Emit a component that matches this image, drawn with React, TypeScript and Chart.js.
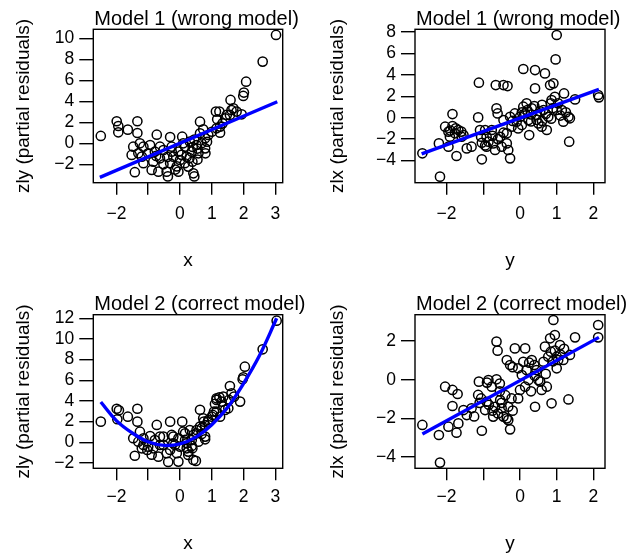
import React, { useEffect, useRef } from 'react';
import { Chart, registerables } from 'chart.js';

Chart.register(...registerables);

const FONT = '"Liberation Sans", Arial, Helvetica, sans-serif';

// ---------- Panel 1: Model 1, zly vs x ----------
const p1X = [-2.49, -1.99, -1.94, -1.94, -1.64, -1.34, -1.34, -0.73, -1.42, -0.38, 0.45, -1.47, -1.26, -1.52, -1.31, -1.15, -0.94, -1.2, -1.0, -0.79, -0.84, -0.63, -0.89, -0.68, -0.42, -0.31, -0.52, -0.26, -0.21, -0.31, -0.05, 0.0, -0.05, 0.07, 0.16, 0.21, 0.26, 0.37, 0.39, 0.42, 0.31, 0.52, 0.63, 0.58, 0.68, 0.79, 0.79, 0.89, 0.73, 0.63, 1.0, 1.15, 1.26, -1.15, -0.63, -0.52, -0.26, -0.1, 0.05, 0.1, 0.15, 0.4, 0.45, 0.55, 0.55, 0.8, 0.85, 1.13, 1.24, 1.17, 1.26, 1.34, 1.42, 1.47, 1.57, 1.59, 1.62, 1.68, 1.78, 1.94, 1.99, 2.01, 2.08, 2.6, 3.02, -0.75, -0.4, 0.3, -0.15];
const p1Y = [0.7, 2.1, 1.65, 1.05, 1.3, 2.1, 0.98, 0.82, -2.75, -3.15, -3.15, -0.32, 0.0, -1.11, -0.95, -0.32, -0.16, -1.27, -0.95, -0.8, -1.75, -1.43, -2.54, -2.7, -2.7, 0.6, -0.64, -0.32, -1.27, -1.9, -0.8, -1.59, -2.7, 0.63, -0.32, -1.27, -2.22, -0.8, -1.75, -2.86, 0.16, -0.16, 0.95, -0.95, 0.0, -0.48, 0.48, 0.79, 1.33, 2.06, 1.1, 1.43, 1.01, -1.9, -0.32, -2.0, -0.8, -2.2, -1.1, 0.0, -1.9, -0.35, 0.35, -0.5, -1.55, -0.95, 0.15, 3.02, 3.02, 2.29, 1.59, 1.9, 2.38, 2.7, 2.7, 4.13, 3.17, 3.33, 3.02, 2.76, 4.51, 4.83, 5.87, 7.78, 10.32, -1.2, -1.3, -1.4, -2.5];
const p1FitX = [-2.52, 3.06];
const p1FitY = [-3.24, 3.96];

// ---------- Panel 2: Model 1, zlx vs y ----------
const p2X = [-2.66, -2.18, -2.21, -2.04, -1.84, -1.84, -1.95, -1.91, -1.77, -1.68, -1.59, -1.95, -1.73, -1.54, -1.45, -1.32, -1.12, -1.14, -1.09, -1.06, -1.04, -1.04, -0.95, -0.91, -0.91, -0.86, -0.77, -0.73, -0.68, -0.64, -0.61, -0.66, -0.45, -0.34, -0.54, -0.5, -0.36, -0.36, -0.32, -0.27, -0.45, -0.27, -0.23, -0.14, -0.09, -0.05, 0.0, 0.05, 0.09, 0.09, 0.14, 0.18, 0.23, 0.25, 0.32, 0.39, 0.41, 0.41, 0.45, 0.5, 0.59, 0.64, 0.68, 0.73, 0.77, 0.82, 0.84, 0.86, 0.91, 0.95, 0.97, 1.0, 1.0, 1.04, 1.14, 1.18, 1.2, 1.32, 1.36, 1.34, 1.5, 2.13, 2.15, 0.05, 0.2, 0.3, 0.55, 0.6, 0.7, 0.3, 0.45, 0.6, -0.2, -0.45, -0.6, -0.75, -0.95, 1.1, 1.25, 0.9, 0.85, -1.6, -1.75, -1.9];
const p2Y = [-3.33, -5.51, -2.4, -0.84, 0.34, -0.78, -1.31, -1.78, -1.46, -1.15, -1.78, -2.71, -3.58, -1.62, -2.87, -2.71, 3.27, 0.03, -1.15, -1.78, -2.34, -3.89, -1.15, -1.78, -2.71, -2.24, -1.15, -2.4, -3.02, 0.87, 0.4, 3.05, 3.05, 2.96, -1.78, -2.71, -1.46, -2.4, -3.02, -3.8, -0.22, 0.09, -0.84, 0.4, -0.37, -1.0, 0.09, -0.69, 4.55, 1.03, 0.4, 1.34, -0.22, -1.62, 0.87, 1.09, 4.45, 2.74, 0.25, -0.53, -0.84, 0.72, 4.14, -1.15, 0.09, 3.05, 1.34, 1.65, 3.21, 1.96, 5.45, 0.72, 7.73, 1.34, 0.72, -0.37, 2.27, 0.09, -0.06, -2.24, 1.71, 2.12, 1.9, 0.5, 0.7, 0.3, 0.6, 1.2, 0.35, -0.35, -0.2, -0.3, -0.3, -1.4, -2.0, -1.7, -2.6, 0.2, 0.5, 0.9, -0.1, -1.3, -1.0, -1.2];
const p2FitX = [-2.68, 2.15];
const p2FitY = [-3.39, 2.65];

// ---------- Panel 3: Model 2, zly vs x ----------
const p3X = [-2.49, -1.99, -1.92, -1.97, -1.64, -1.34, -1.34, -0.73, -1.47, -1.42, -1.26, -1.31, -1.15, -1.2, -0.94, -1.0, -0.79, -0.84, -0.89, -0.63, -0.68, -0.42, -0.37, -0.31, -0.52, -0.26, -0.21, -0.31, -0.05, 0.0, -0.05, 0.07, 0.16, 0.21, 0.26, 0.37, 0.39, 0.42, 0.5, 0.31, 0.52, 0.63, 0.58, 0.68, 0.79, 0.79, 0.89, 0.73, 1.0, 1.15, 1.26, 1.15, 1.36, 1.54, -1.15, -1.03, -0.63, -0.52, -0.21, -0.16, -0.1, 0.1, 0.16, 0.21, 0.26, 0.37, 0.42, 0.52, 0.63, 0.68, 0.79, 0.75, 0.89, 1.03, 1.07, 1.1, 1.15, 1.24, 1.31, 1.36, 1.42, 1.52, 1.57, 1.62, 1.7, 1.89, 1.97, 1.99, 2.04, 2.6, 3.04];
const p3Y = [2.0, 3.25, 3.1, 2.23, 2.48, 3.25, 2.0, 1.68, 0.39, -1.3, 1.03, 0.06, 0.39, -0.58, 0.6, -0.43, 0.22, -0.58, -1.2, -0.26, -1.39, -1.06, -1.9, 2.0, 0.55, 0.71, -0.1, -0.74, 0.39, -0.42, -1.87, 2.0, 0.87, -0.1, -0.9, 0.22, -0.58, -1.71, -1.8, 1.19, 0.87, 3.15, 0.06, 1.35, 0.55, 1.67, 2.0, 2.32, 2.48, 2.97, 2.48, 4.26, 4.42, 4.1, -0.26, -0.74, 0.55, -0.26, 0.55, -0.26, -1.06, 1.03, 0.23, -0.58, -1.23, -0.35, 0.71, 1.19, 1.52, 0.81, 0.29, 2.0, 2.16, 2.65, 2.97, 3.71, 4.1, 4.35, 3.94, 3.45, 3.13, 3.29, 5.45, 4.74, 4.42, 3.94, 6.1, 6.29, 7.32, 9.0, 11.77];
const p3FitX = [-2.49, -2.0, -1.5, -1.0, -0.5, 0.0, 0.5, 1.0, 1.5, 2.0, 2.5, 3.04];
const p3FitY = [3.9, 2.1, 0.9, 0.05, -0.3, -0.15, 0.5, 1.7, 3.4, 5.7, 8.4, 12.0];

// ---------- Panel 4: Model 2, zlx vs y ----------
const p4X = [-2.66, -2.18, -2.21, -2.04, -1.84, -1.7, -1.84, -1.95, -1.73, -1.68, -1.54, -1.45, -1.32, -1.12, -1.04, -1.14, -1.06, -0.95, -0.91, -0.86, -0.77, -0.73, -0.68, -0.64, -0.64, -0.61, -0.54, -0.5, -0.45, -0.36, -0.32, -0.27, -0.32, -0.23, -0.36, -0.27, -0.14, -0.05, 0.14, 0.09, 0.05, 0.0, -0.05, 0.14, 0.18, 0.25, 0.23, 0.32, 0.39, 0.41, 0.45, 0.5, 0.59, 0.64, 0.68, 0.73, 0.77, 0.82, 0.84, 0.86, 0.91, 0.95, 1.0, 1.0, 1.04, 1.09, 1.18, 1.32, 1.36, 1.5, 2.13, 2.13, -0.2, -0.9, -0.55, -0.85, -0.75, -0.6, -0.5, -0.4, -0.55, 0.3, 0.55, 0.7, 0.4, 0.9, 1.1, 1.2, 0.95, -1.1, -0.2, -1.25];
const p4Y = [-2.34, -4.29, -2.86, -0.36, -0.53, -0.74, -1.36, -2.43, -2.74, -2.26, -1.57, -1.83, -1.48, -0.1, -2.64, -0.79, -0.97, -1.57, -1.14, -0.02, -0.36, -1.91, -1.4, 0.02, 1.97, 1.5, -1.05, -1.48, -1.91, -2.0, -2.09, -2.57, -1.4, -0.97, 1.02, 0.76, 1.62, 0.59, 1.62, 0.93, 0.24, -0.53, -0.97, -0.36, 0.5, 0.88, -0.02, 1.02, 0.76, -1.4, 0.5, -0.02, -0.53, 0.93, 1.71, -0.36, 1.19, 2.14, 1.45, -1.22, 3.09, 2.31, 1.19, 0.59, 1.02, 1.79, 1.02, -1.02, 1.28, 2.19, 2.83, 2.19, 0.65, -0.15, -0.2, -1.3, -1.6, -1.75, -1.2, -0.8, -0.6, -0.6, -0.1, 0.3, 0.2, 0.95, 1.3, 1.6, 1.5, -1.2, -1.6, -1.9];
const p4FitX = [-2.66, 2.15];
const p4FitY = [-2.81, 2.19];

// ---------- Axis ticks ----------
const xTicksA = [-2, -1, 0, 1, 2, 3];
const xTickLabelsA = ['\u22122', '', '0', '1', '2', '3'];
const xTicksB = [-2, -1, 0, 1, 2];
const xTickLabelsB = ['\u22122', '', '0', '1', '2'];
const yTicks1 = [-2, 0, 2, 4, 6, 8, 10];
const yTicks2 = [-4, -2, 0, 2, 4, 6, 8];
const yTicks3 = [-2, 0, 2, 4, 6, 8, 10, 12];
const yTicks4 = [-4, -2, 0, 2];

const fmt = (v: number) => (v < 0 ? '\u2212' + Math.abs(v) : String(v));

const panelDecor = {
  id: 'panelDecor',
  afterDraw(chart: any, _args: any, opts: any) {
    const { ctx, chartArea: a } = chart;
    ctx.save();
    ctx.strokeStyle = '#000';
    ctx.lineWidth = 1.4;
    ctx.strokeRect(a.left, a.top, a.right - a.left, a.bottom - a.top);
    ctx.fillStyle = '#000';
    ctx.font = `20px ${FONT}`;
    ctx.textAlign = 'left';
    ctx.textBaseline = 'alphabetic';
    ctx.fillText(opts.text, a.left + 1, a.top - opts.gap);
    ctx.restore();
  },
};

type PanelProps = {
  left: number; top: number; width: number; height: number;
  area: { l: number; t: number; r: number; b: number };
  xMin: number; xMax: number; yMin: number; yMax: number;
  xTicks: number[]; xLabels: string[]; yTicks: number[];
  title: string; xTitle: string; yTitle: string;
  px: number[]; py: number[]; fx: number[]; fy: number[];
  tension: number; xLabPad: number; xTitlePad: number; titleGap: number;
};

function Panel(p: PanelProps) {
  const ref = useRef<HTMLCanvasElement | null>(null);
  useEffect(() => {
    if (!ref.current) return;
    const chart = new Chart(ref.current, {
      type: 'scatter',
      data: {
        datasets: [
          {
            type: 'line',
            data: p.fx.map((x, i) => ({ x, y: p.fy[i] })),
            borderColor: '#0000ff',
            borderWidth: 3.4,
            pointRadius: 0,
            tension: p.tension,
            fill: false,
            showLine: true,
            order: 0,
          } as any,
          {
            data: p.px.map((x, i) => ({ x, y: p.py[i] })),
            pointStyle: 'circle',
            pointRadius: 4.6,
            borderColor: '#000',
            borderWidth: 1.5,
            backgroundColor: 'rgba(0,0,0,0)',
            order: 1,
          },
        ],
      },
      options: {
        responsive: false,
        animation: false,
        events: [],
        layout: { padding: { left: 0, top: p.area.t, right: p.width - p.area.r, bottom: 0 } },
        plugins: {
          legend: { display: false },
          tooltip: { enabled: false },
          panelDecor: { text: p.title, gap: p.titleGap },
        } as any,
        scales: {
          x: {
            type: 'linear',
            min: p.xMin,
            max: p.xMax,
            afterBuildTicks: (s: any) => { s.ticks = p.xTicks.map((v) => ({ value: v })); },
            afterFit: (s: any) => { s.height = p.height - p.area.b; },
            ticks: {
              autoSkip: false,
              maxRotation: 0,
              minRotation: 0,
              color: '#000',
              font: { family: FONT, size: 17.5 },
              padding: p.xLabPad,
              callback: (v: any) => p.xLabels[p.xTicks.indexOf(Number(v))] ?? '',
            },
            grid: { drawOnChartArea: false, drawTicks: true, tickLength: 12, color: '#000', lineWidth: 1.4 },
            border: { display: false },
            title: {
              display: true,
              text: p.xTitle,
              color: '#000',
              font: { family: FONT, size: 19 },
              padding: { top: 0, bottom: p.xTitlePad },
            },
          },
          y: {
            type: 'linear',
            min: p.yMin,
            max: p.yMax,
            afterBuildTicks: (s: any) => { s.ticks = p.yTicks.map((v) => ({ value: v })); },
            afterFit: (s: any) => { s.width = p.area.l; },
            ticks: {
              autoSkip: false,
              color: '#000',
              font: { family: FONT, size: 17.5 },
              padding: 5,
              callback: (v: any) => fmt(Number(v)),
            },
            grid: { drawOnChartArea: false, drawTicks: true, tickLength: 14, color: '#000', lineWidth: 1.4 },
            border: { display: false },
            title: {
              display: true,
              text: p.yTitle,
              color: '#000',
              font: { family: FONT, size: 19 },
              padding: { top: 12, bottom: 0 },
            },
          },
        },
      },
      plugins: [panelDecor as any],
    });
    return () => chart.destroy();
  }, []);
  return (
    <canvas
      ref={ref}
      width={p.width}
      height={p.height}
      style={{ position: 'absolute', left: p.left, top: p.top, width: p.width, height: p.height }}
    />
  );
}

export default function App() {
  const topArea = (l: number, r: number) => ({ l, t: 29.3, r, b: 182.7 });
  const botArea = (l: number, r: number) => ({ l, t: 34.7, r, b: 188.3 });
  return (
    <div style={{ position: 'absolute', left: 0, top: 0, width: 628, height: 559, background: '#fff' }}>
      <Panel
        left={0} top={0} width={314} height={280} area={topArea(93.3, 282.7)}
        xMin={-2.726} xMax={3.23} yMin={-3.752} yMax={10.857}
        xTicks={xTicksA} xLabels={xTickLabelsA} yTicks={yTicks1}
        title="Model 1 (wrong model)" xTitle="x" yTitle="zly (partial residuals)"
        px={p1X} py={p1Y} fx={p1FitX} fy={p1FitY} tension={0}
        xLabPad={8.8} xTitlePad={8.3} titleGap={4.3}
      />
      <Panel
        left={314} top={0} width={314} height={280} area={topArea(101, 291)}
        xMin={-2.861} xMax={2.316} yMin={-6.075} yMax={8.262}
        xTicks={xTicksB} xLabels={xTickLabelsB} yTicks={yTicks2}
        title="Model 1 (wrong model)" xTitle="y" yTitle="zlx (partial residuals)"
        px={p2X} py={p2Y} fx={p2FitX} fy={p2FitY} tension={0}
        xLabPad={8.8} xTitlePad={8.3} titleGap={4.3}
      />
      <Panel
        left={0} top={280} width={314} height={279} area={botArea(93.3, 282.7)}
        xMin={-2.726} xMax={3.23} yMin={-2.517} yMax={12.352}
        xTicks={xTicksA} xLabels={xTickLabelsA} yTicks={yTicks3}
        title="Model 2 (correct model)" xTitle="x" yTitle="zly (partial residuals)"
        px={p3X} py={p3Y} fx={p3FitX} fy={p3FitY} tension={0.4}
        xLabPad={6.2} xTitlePad={4.3} titleGap={4.7}
      />
      <Panel
        left={314} top={280} width={314} height={279} area={botArea(101, 291)}
        xMin={-2.861} xMax={2.316} yMin={-4.584} yMax={3.363}
        xTicks={xTicksB} xLabels={xTickLabelsB} yTicks={yTicks4}
        title="Model 2 (correct model)" xTitle="y" yTitle="zlx (partial residuals)"
        px={p4X} py={p4Y} fx={p4FitX} fy={p4FitY} tension={0}
        xLabPad={6.2} xTitlePad={4.3} titleGap={4.7}
      />
    </div>
  );
}
